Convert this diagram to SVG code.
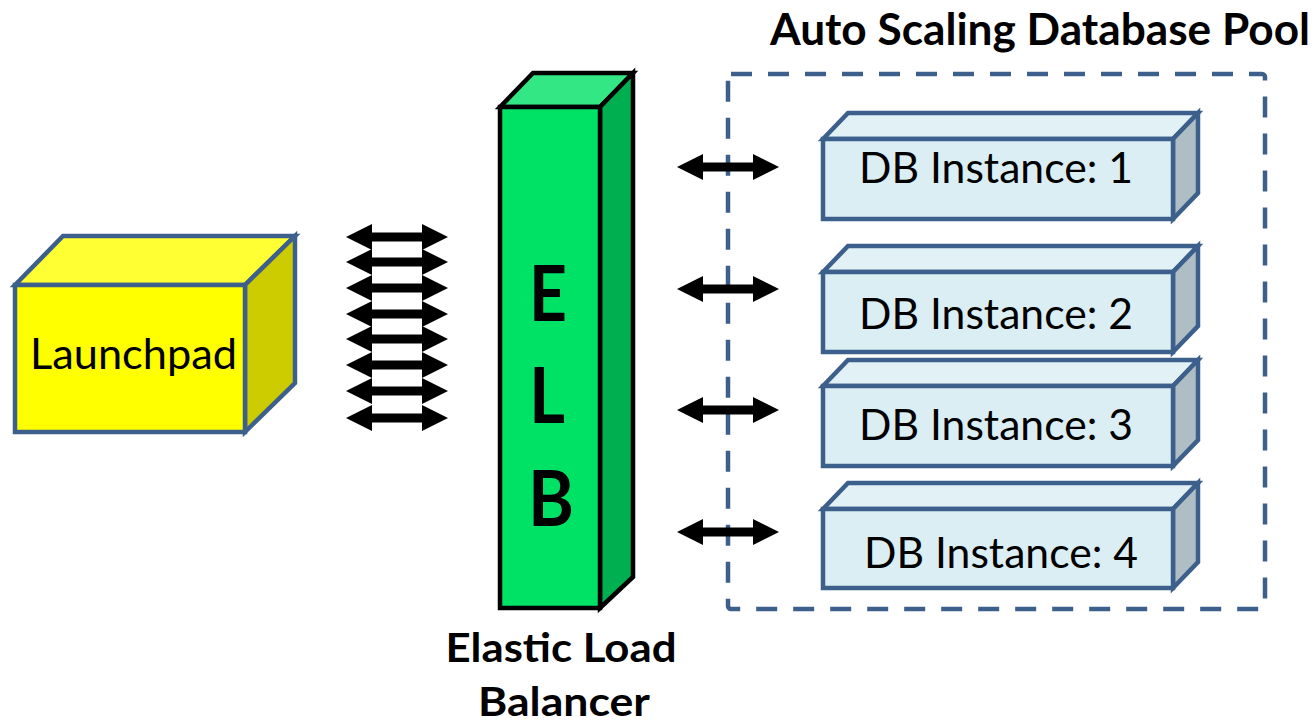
<svg xmlns="http://www.w3.org/2000/svg" width="1316" height="725" viewBox="0 0 1316 725">
<style>
.lp{stroke:#3C5F8B;stroke-width:4.5;stroke-linejoin:miter}
.elb{stroke:#000;stroke-width:4.5;stroke-linejoin:miter}
.db{stroke:#3C5F8B;stroke-width:4.5;stroke-linejoin:miter}
.dbf{fill:#DAEEF3}.dbt{fill:#E2F1F6}.dbs{fill:#AEBEC4}
.t{font-family:Lato,"Liberation Sans",sans-serif;fill:#000}
.reg{font-size:42px}
.bold{font-weight:bold}
.arrow{fill:#000}
</style>
<defs>
<path id="dbl" d="M0,0 L26,-13 L26,-4.5 L76,-4.5 L76,-13 L102,0 L76,13 L76,4.5 L26,4.5 L26,13 Z"/>
</defs>
<rect width="1316" height="725" fill="#fff"/>

<g id="title">
<text class="t bold" x="1040" y="45" font-size="44" text-anchor="middle" textLength="540" lengthAdjust="spacingAndGlyphs">Auto Scaling Database Pool</text>
</g>

<g id="db-pool">
<rect x="728" y="74" width="537" height="535" rx="3" fill="none" stroke="#3C5F8B" stroke-width="4.5" stroke-dasharray="21 16"/>
</g>

<g id="launchpad">
<polygon class="lp" fill="#FFFF33" points="15,285 63,236 295,236 245,285"/>
<polygon class="lp" fill="#CCCC00" points="245,285 295,236 295,383 245,432"/>
<rect class="lp" fill="#FFFF00" x="15" y="285" width="230" height="147"/>
<text class="t reg" x="133.5" y="369" text-anchor="middle" textLength="207" lengthAdjust="spacingAndGlyphs">Launchpad</text>
</g>

<g id="elb">
<polygon class="elb" fill="#33E884" points="500,107 533,73 633,73 600,107"/>
<polygon class="elb" fill="#00B050" points="600,107 633,73 633,577 600,608"/>
<rect class="elb" fill="#00E266" x="500" y="107" width="100" height="501"/>
<text class="t bold" x="548" y="321" font-size="76" text-anchor="middle" textLength="38" lengthAdjust="spacingAndGlyphs">E</text>
<text class="t bold" x="547" y="423" font-size="76" text-anchor="middle" textLength="36" lengthAdjust="spacingAndGlyphs">L</text>
<text class="t bold" x="551" y="526" font-size="76" text-anchor="middle" textLength="46" lengthAdjust="spacingAndGlyphs">B</text>
</g>

<g id="elb-label">
<text class="t bold" x="561" y="662" font-size="40" text-anchor="middle" textLength="231" lengthAdjust="spacingAndGlyphs">Elastic Load</text>
<text class="t bold" x="564" y="716" font-size="40" text-anchor="middle" textLength="172" lengthAdjust="spacingAndGlyphs">Balancer</text>
</g>

<g id="db1">
<polygon class="db dbt" points="823,139 848,113 1198,113 1173,139"/>
<polygon class="db dbs" points="1173,139 1198,113 1198,193 1173,219"/>
<rect class="db dbf" x="823" y="139" width="350" height="80"/>
<text class="t reg" x="996" y="183" text-anchor="middle" textLength="274" lengthAdjust="spacingAndGlyphs">DB Instance: 1</text>
</g>

<g id="db2">
<polygon class="db dbt" points="823,272 848,246 1198,246 1173,272"/>
<polygon class="db dbs" points="1173,272 1198,246 1198,326 1173,352"/>
<rect class="db dbf" x="823" y="272" width="350" height="80"/>
<text class="t reg" x="996" y="329" text-anchor="middle" textLength="274" lengthAdjust="spacingAndGlyphs">DB Instance: 2</text>
</g>

<g id="db3">
<polygon class="db dbt" points="823,386 848,360 1198,360 1173,386"/>
<polygon class="db dbs" points="1173,386 1198,360 1198,440 1173,466"/>
<rect class="db dbf" x="823" y="386" width="350" height="80"/>
<text class="t reg" x="996" y="440" text-anchor="middle" textLength="274" lengthAdjust="spacingAndGlyphs">DB Instance: 3</text>
</g>

<g id="db4">
<polygon class="db dbt" points="823,509 848,483 1198,483 1173,509"/>
<polygon class="db dbs" points="1173,509 1198,483 1198,562 1173,588"/>
<rect class="db dbf" x="823" y="509" width="350" height="79"/>
<text class="t reg" x="1001" y="568" text-anchor="middle" textLength="274" lengthAdjust="spacingAndGlyphs">DB Instance: 4</text>
</g>

<g id="connectors" class="arrow">
<use href="#dbl" transform="translate(346,237)"/>
<use href="#dbl" transform="translate(346,262)"/>
<use href="#dbl" transform="translate(346,288)"/>
<use href="#dbl" transform="translate(346,314)"/>
<use href="#dbl" transform="translate(346,339)"/>
<use href="#dbl" transform="translate(346,365)"/>
<use href="#dbl" transform="translate(346,391)"/>
<use href="#dbl" transform="translate(346,418)"/>
<use href="#dbl" transform="translate(677,167)"/>
<use href="#dbl" transform="translate(677,289)"/>
<use href="#dbl" transform="translate(677,410)"/>
<use href="#dbl" transform="translate(677,532)"/>
</g>
</svg>
